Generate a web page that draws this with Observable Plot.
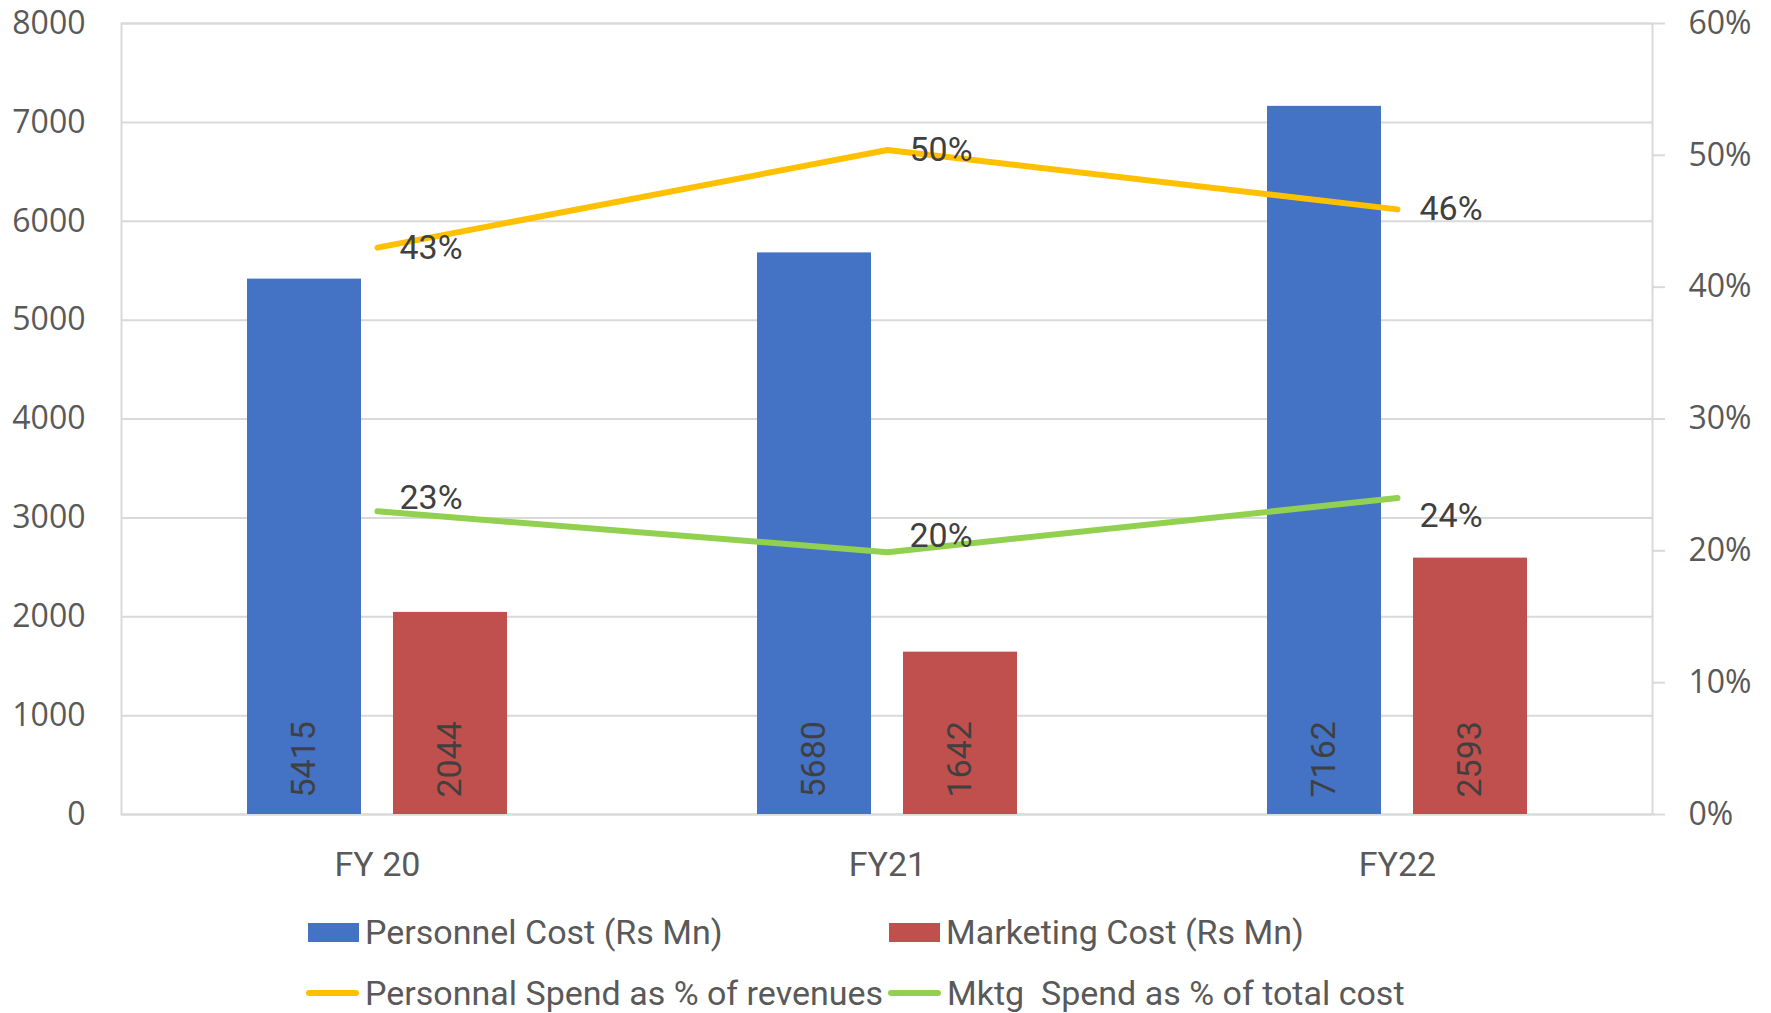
<!DOCTYPE html>
<html>
<head>
<meta charset="utf-8">
<script src="https://cdn.jsdelivr.net/npm/d3@7"></script>
<script src="https://cdn.jsdelivr.net/npm/@observablehq/plot@0.6"></script>
<style>
  body { margin: 0; background: #fff; }
  #wrap { position: relative; width: 1771px; height: 1013px; background: #fff; overflow: hidden; }
  #wrap svg { position: absolute; left: 0; top: 0; }
  .leg { position: absolute; display: flex; align-items: center; white-space: nowrap;
         font-family: Roboto, "DejaVu Sans Condensed", sans-serif;
         font-size: 34px; color: #595959; height: 50px; }
  .sw { display: inline-block; margin-right: 6px; }
</style>
</head>
<body>
<div id="wrap"></div>
<script>
// ---- data ----
const categories = ["FY 20", "FY21", "FY22"];
const personnelCost = [5415, 5680, 7162];
const marketingCost = [2044, 1642, 2593];
const personnelPct = [0.43, 0.504, 0.459];
const mktgPct = [0.23, 0.199, 0.24];
const leftTicks = [0, 1000, 2000, 3000, 4000, 5000, 6000, 7000, 8000];
const rightTicks = [0, 0.1, 0.2, 0.3, 0.4, 0.5, 0.6];
const seriesNames = ["Personnel Cost (Rs Mn)", "Marketing Cost (Rs Mn)",
                     "Personnal Spend as % of revenues", "Mktg  Spend as % of total cost"];

// ---- styles ----
const colors = ["#4472C4", "#C0504D", "#FFC000", "#92D050"];
const narrow = "Roboto, 'DejaVu Sans Condensed', sans-serif";
const tickFont = "'Open Sans', 'Liberation Sans', sans-serif";
const greenLabelDy = [-13, -16, 18];

const yMax = 8000, pMax = 0.6;
const toY = p => p / pMax * yMax;

const blue = categories.map((c, i) => ({cat: c, value: personnelCost[i]}));
const red = categories.map((c, i) => ({cat: c, value: marketingCost[i]}));
const yel = categories.map((c, i) => ({cat: c, p: personnelPct[i]}));
const grn = categories.map((c, i) => ({cat: c, p: mktgPct[i]}));

const H = 890, plotBottom = 814;

const chart = Plot.plot({
  width: 1771, height: H,
  marginTop: 23, marginBottom: H - plotBottom, marginLeft: 121, marginRight: 119,
  style: {background: "#fff", fontFamily: tickFont, fontSize: "32px", color: "#595959"},
  x: {domain: categories, type: "band", padding: 0, label: null},
  y: {domain: [0, yMax], label: null},
  marks: [
    Plot.ruleY(leftTicks, {stroke: "#d9d9d9", strokeWidth: 2}),
    Plot.frame({stroke: "#d9d9d9", strokeWidth: 2}),
    Plot.axisY(leftTicks, {anchor: "left", label: null, tickSize: 0, tickPadding: 36, fill: "#595959",
      fontFamily: tickFont, fontSize: 32, tickFormat: d => String(d)}),
    Plot.axisY(rightTicks.map(toY), {anchor: "right", label: null, tickSize: 12, tickPadding: 24,
      stroke: "#d9d9d9", strokeWidth: 2, fill: "#595959", fontFamily: tickFont, fontSize: 32,
      tickFormat: d => Math.round(d / yMax * pMax * 100) + "%"}),
    Plot.axisX({label: null, tickSize: 0, tickPadding: 37, fill: "#595959", fontFamily: narrow, fontSize: 34}),
    Plot.barY(blue, {x: "cat", y: "value", fill: colors[0], insetLeft: 125, insetRight: 271}),
    Plot.barY(red, {x: "cat", y: "value", fill: colors[1], insetLeft: 271, insetRight: 125}),
    Plot.text(blue, {x: "cat", y: 0, text: d => String(d.value), rotate: -90, textAnchor: "start",
      lineAnchor: "middle", dx: -73, dy: -17, fill: "#404040", fontSize: 34, fontFamily: narrow}),
    Plot.text(red, {x: "cat", y: 0, text: d => String(d.value), rotate: -90, textAnchor: "start",
      lineAnchor: "middle", dx: 73, dy: -17, fill: "#404040", fontSize: 34, fontFamily: narrow}),
    Plot.line(yel, {x: "cat", y: d => toY(d.p), stroke: colors[2], strokeWidth: 6, strokeLinecap: "round", strokeLinejoin: "round"}),
    Plot.line(grn, {x: "cat", y: d => toY(d.p), stroke: colors[3], strokeWidth: 6, strokeLinecap: "round", strokeLinejoin: "round"}),
    Plot.text(yel, {x: "cat", y: d => toY(d.p), text: d => Math.round(d.p * 100) + "%", textAnchor: "start",
      lineAnchor: "middle", dx: 22, fill: "#404040", fontSize: 34, fontFamily: narrow}),
    ...grn.map((g, i) => Plot.text([g], {x: "cat", y: d => toY(d.p), text: d => Math.round(d.p * 100) + "%",
      textAnchor: "start", lineAnchor: "middle", dx: 22, dy: greenLabelDy[i], fill: "#404040", fontSize: 34, fontFamily: narrow}))
  ]
});

const wrap = document.getElementById("wrap");
wrap.appendChild(chart);

// ---- legend (HTML, below the plot area) ----
const legendItems = [
  {name: seriesNames[0], color: colors[0], kind: "rect", left: 308, cy: 932},
  {name: seriesNames[1], color: colors[1], kind: "rect", left: 889, cy: 932},
  {name: seriesNames[2], color: colors[2], kind: "line", left: 306, cy: 993},
  {name: seriesNames[3], color: colors[3], kind: "line", left: 888, cy: 993}
];
for (const it of legendItems) {
  const d = document.createElement("div");
  d.className = "leg";
  d.style.left = it.left + "px";
  d.style.top = (it.cy - 25) + "px";
  const s = document.createElement("span");
  s.className = "sw";
  if (it.kind === "rect") {
    s.style.width = "51px"; s.style.height = "19px"; s.style.background = it.color;
  } else {
    s.style.width = "53px"; s.style.height = "6px"; s.style.background = it.color; s.style.borderRadius = "3px";
  }
  d.appendChild(s);
  const t = document.createElement("span");
  t.textContent = it.name;
  t.style.whiteSpace = "pre";
  d.appendChild(t);
  wrap.appendChild(d);
}
</script>
</body>
</html>
